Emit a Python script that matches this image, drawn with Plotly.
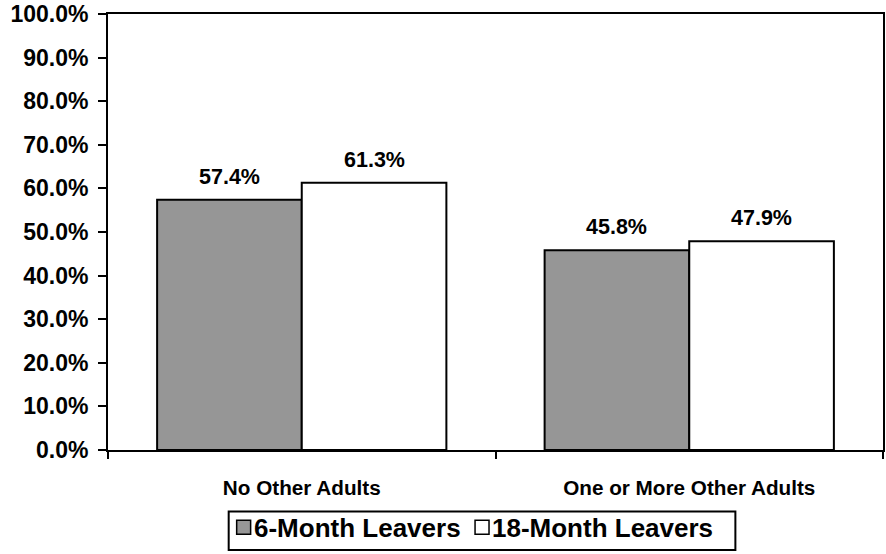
import plotly.graph_objects as go

# Share of leavers by household composition
categories = ["No Other Adults", "One or More Other Adults"]
series_names = ["6-Month Leavers", "18-Month Leavers"]
six_month = [57.4, 45.8]
eighteen_month = [61.3, 47.9]
y_ticks = [0, 10, 20, 30, 40, 50, 60, 70, 80, 90, 100]

FONT = "Liberation Sans, Arial, sans-serif"
GRAY = "#969696"
BARGAP = 0.2535

W, H = 886, 554
L, R, T, B = 108, 1, 10, 104
PW, PH = W - L - R, H - T - B


def px_x(x):
    return (x - L) / PW


def px_y(y):
    return (H - B - y) / PH


fig = go.Figure()
for name, vals, color in [(series_names[0], six_month, GRAY),
                          (series_names[1], eighteen_month, "white")]:
    fig.add_trace(go.Bar(
        name=name, x=categories, y=vals,
        marker=dict(color=color, line=dict(color="black", width=2)),
        showlegend=False,
    ))

# value labels above each bar
half = (1 - BARGAP) / 4
offsets = [-half, half]
annotations = []
for k, vals in enumerate([six_month, eighteen_month]):
    for i, v in enumerate(vals):
        annotations.append(dict(
            x=i + offsets[k], y=v, xref="x", yref="y",
            text=f"{v:.1f}%", showarrow=False, yanchor="middle", yshift=23,
            font=dict(family=FONT, size=21.5, color="black", weight="bold"),
        ))

# legend box drawn by hand
shapes = [dict(type="rect", xref="paper", yref="paper",
               x0=px_x(229), x1=px_x(737), y0=px_y(551), y1=px_y(512),
               line=dict(color="black", width=2), fillcolor="white")]
legend_items = [(series_names[0], GRAY, 237), (series_names[1], "white", 476)]
for name, color, sx in legend_items:
    shapes.append(dict(type="rect", xref="paper", yref="paper",
                       x0=px_x(sx), x1=px_x(sx + 14), y0=px_y(535), y1=px_y(521),
                       line=dict(color="black", width=1.5), fillcolor=color))
    annotations.append(dict(
        x=px_x(sx + 15), y=px_y(529), xref="paper", yref="paper",
        text=name, showarrow=False, xanchor="left", yanchor="middle",
        font=dict(family=FONT, size=26, color="black", weight="bold"),
    ))

fig.update_layout(
    width=W, height=H,
    margin=dict(l=L, r=R, t=T, b=B, pad=0),
    paper_bgcolor="white", plot_bgcolor="white",
    barmode="group", bargap=BARGAP, bargroupgap=0,
    annotations=annotations, shapes=shapes,
    font=dict(family=FONT, color="black"),
)
fig.update_xaxes(
    showline=True, linecolor="black", linewidth=2, mirror=True,
    showgrid=False, ticks="outside", ticklen=7, tickwidth=2, tickcolor="black",
    tickson="boundaries", ticklabelstandoff=18,
    tickfont=dict(family=FONT, size=20.7, color="black", weight="bold"),
)
fig.update_yaxes(
    range=[0, 100], tickvals=y_ticks, ticktext=[f"{t:.1f}%" for t in y_ticks],
    showline=True, linecolor="black", linewidth=2, mirror=True,
    showgrid=False, zeroline=False,
    ticks="outside", ticklen=8, tickwidth=2, tickcolor="black",
    ticklabelstandoff=5, ticklabeloverflow="allow",
    tickfont=dict(family=FONT, size=23, color="black", weight="bold"),
)

fig.write_html("out.html")
